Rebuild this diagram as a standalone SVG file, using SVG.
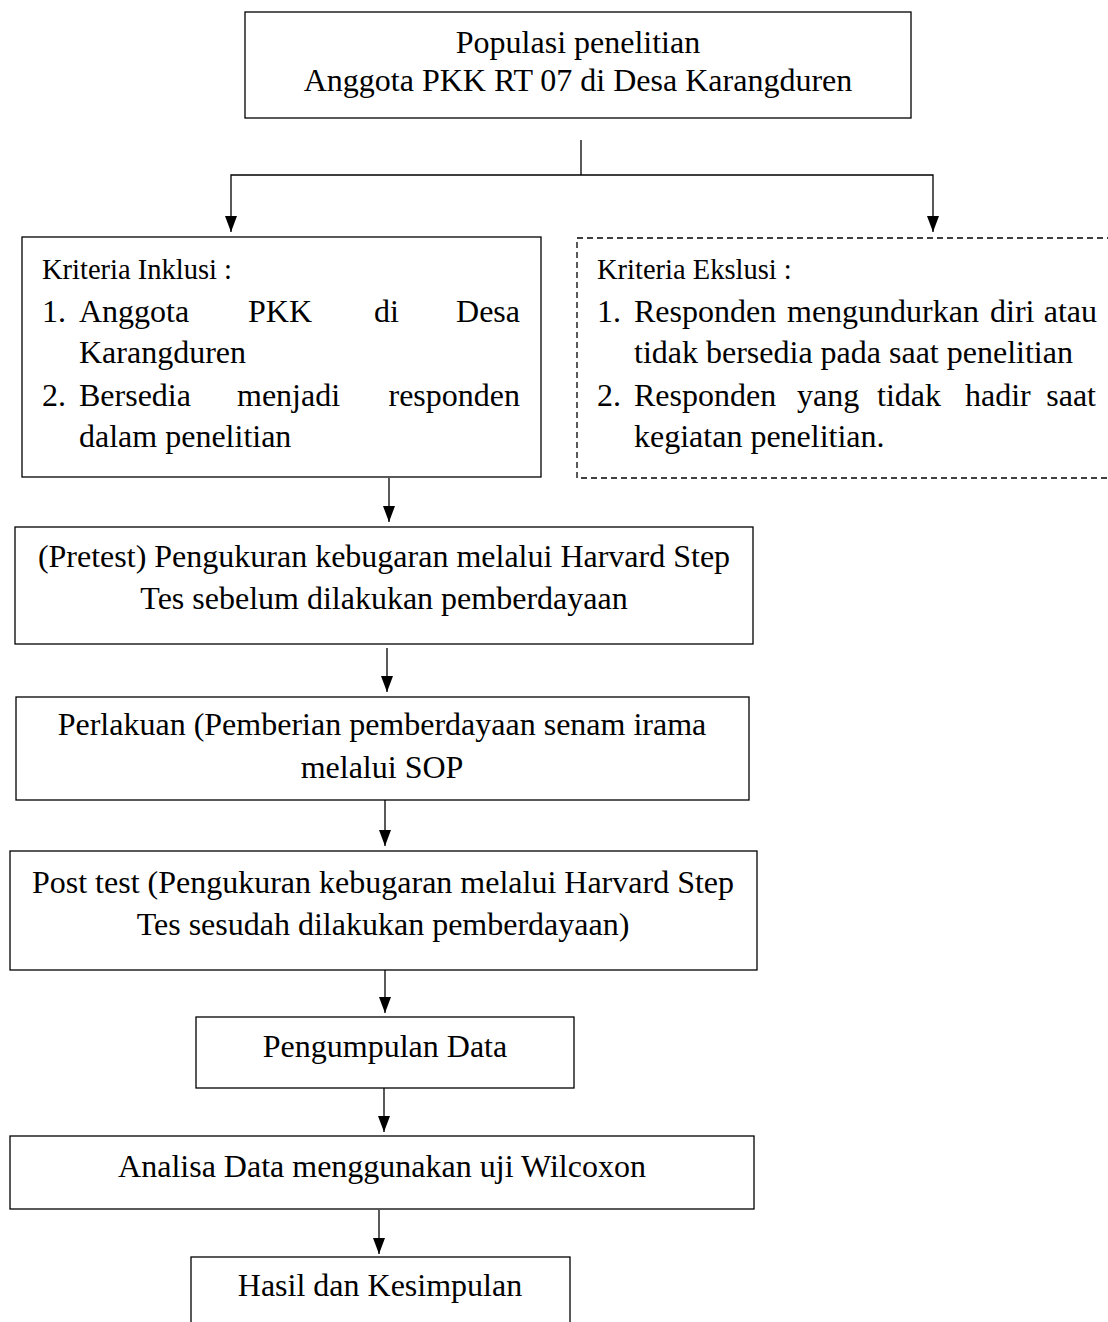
<svg xmlns="http://www.w3.org/2000/svg" width="1108" height="1322" viewBox="0 0 1108 1322">
<style>
  .box { fill: #fff; stroke: #000; stroke-width: 1.3; }
  .dash { fill: #fff; stroke: #000; stroke-width: 1.3; stroke-dasharray: 6 4; }
  text { font-family: "Liberation Serif", "Times New Roman", serif; font-size: 32px; fill: #000; }
  .h { font-size: 28.5px; }
  .c { text-anchor: middle; }
  .e { text-anchor: end; }
  .line { stroke: #000; stroke-width: 1.3; fill: none; }
</style>
<defs>
  <marker id="arr" viewBox="0 0 16 12" refX="16" refY="6" markerWidth="16" markerHeight="12" markerUnits="userSpaceOnUse" orient="auto-start-reverse">
    <path d="M0,0 L16,6 L0,12 Z" fill="#000"/>
  </marker>
</defs>
<rect width="1108" height="1322" fill="#fff"/>

<g id="connectors">
  <line class="line" x1="581" y1="140" x2="581" y2="175"/>
  <polyline class="line" points="231,232 231,175 933,175 933,232" marker-start="url(#arr)" marker-end="url(#arr)"/>
  <line class="line" x1="389" y1="478" x2="389" y2="522" marker-end="url(#arr)"/>
  <line class="line" x1="387" y1="648" x2="387" y2="692" marker-end="url(#arr)"/>
  <line class="line" x1="385" y1="800" x2="385" y2="846" marker-end="url(#arr)"/>
  <line class="line" x1="385" y1="970" x2="385" y2="1013" marker-end="url(#arr)"/>
  <line class="line" x1="384" y1="1088" x2="384" y2="1132" marker-end="url(#arr)"/>
  <line class="line" x1="379" y1="1210" x2="379" y2="1254" marker-end="url(#arr)"/>
</g>

<g id="populasi">
  <rect class="box" x="245" y="12" width="666" height="106"/>
  <text class="c" x="578" y="53">Populasi penelitian</text>
  <text class="c" x="578" y="91">Anggota PKK RT 07 di Desa Karangduren</text>
</g>

<g id="inklusi">
  <rect class="box" x="22" y="237" width="519" height="240"/>
  <text class="h" x="42" y="279">Kriteria Inklusi :</text>
  <text x="42" y="322">1.</text>
  <text x="79" y="322">Anggota</text>
  <text x="248" y="322">PKK</text>
  <text x="374" y="322">di</text>
  <text class="e" x="520" y="322">Desa</text>
  <text x="79" y="363">Karangduren</text>
  <text x="42" y="406">2.</text>
  <text x="79" y="406">Bersedia</text>
  <text x="237" y="406">menjadi</text>
  <text class="e" x="520" y="406">responden</text>
  <text x="79" y="447">dalam penelitian</text>
</g>

<g id="eksklusi">
  <rect class="dash" x="577" y="238" width="540" height="240"/>
  <text class="h" x="597" y="279">Kriteria Ekslusi :</text>
  <text x="597" y="322">1.</text>
  <text x="634" y="322">Responden</text>
  <text x="787" y="322">mengundurkan</text>
  <text x="990" y="322">diri</text>
  <text class="e" x="1097" y="322">atau</text>
  <text x="634" y="363">tidak bersedia pada saat penelitian</text>
  <text x="597" y="406">2.</text>
  <text x="634" y="406">Responden</text>
  <text x="797" y="406">yang</text>
  <text x="877" y="406">tidak</text>
  <text x="965" y="406">hadir</text>
  <text class="e" x="1096" y="406">saat</text>
  <text x="634" y="447">kegiatan penelitian.</text>
</g>

<g id="pretest">
  <rect class="box" x="15" y="527" width="738" height="117"/>
  <text class="c" x="384" y="567">(Pretest) Pengukuran kebugaran melalui Harvard Step</text>
  <text class="c" x="384" y="609">Tes sebelum dilakukan pemberdayaan</text>
</g>

<g id="perlakuan">
  <rect class="box" x="16" y="697" width="733" height="103"/>
  <text class="c" x="382" y="735">Perlakuan (Pemberian pemberdayaan senam irama</text>
  <text class="c" x="382" y="778">melalui SOP</text>
</g>

<g id="posttest">
  <rect class="box" x="10" y="851" width="747" height="119"/>
  <text class="c" x="383" y="893">Post test (Pengukuran kebugaran melalui Harvard Step</text>
  <text class="c" x="383" y="935">Tes sesudah dilakukan pemberdayaan)</text>
</g>

<g id="pengumpulan">
  <rect class="box" x="196" y="1017" width="378" height="71"/>
  <text class="c" x="385" y="1057">Pengumpulan Data</text>
</g>

<g id="analisa">
  <rect class="box" x="10" y="1136" width="744" height="73"/>
  <text class="c" x="382" y="1177">Analisa Data menggunakan uji Wilcoxon</text>
</g>

<g id="hasil">
  <rect class="box" x="191" y="1257" width="379" height="80"/>
  <text class="c" x="380" y="1296">Hasil dan Kesimpulan</text>
</g>
</svg>
